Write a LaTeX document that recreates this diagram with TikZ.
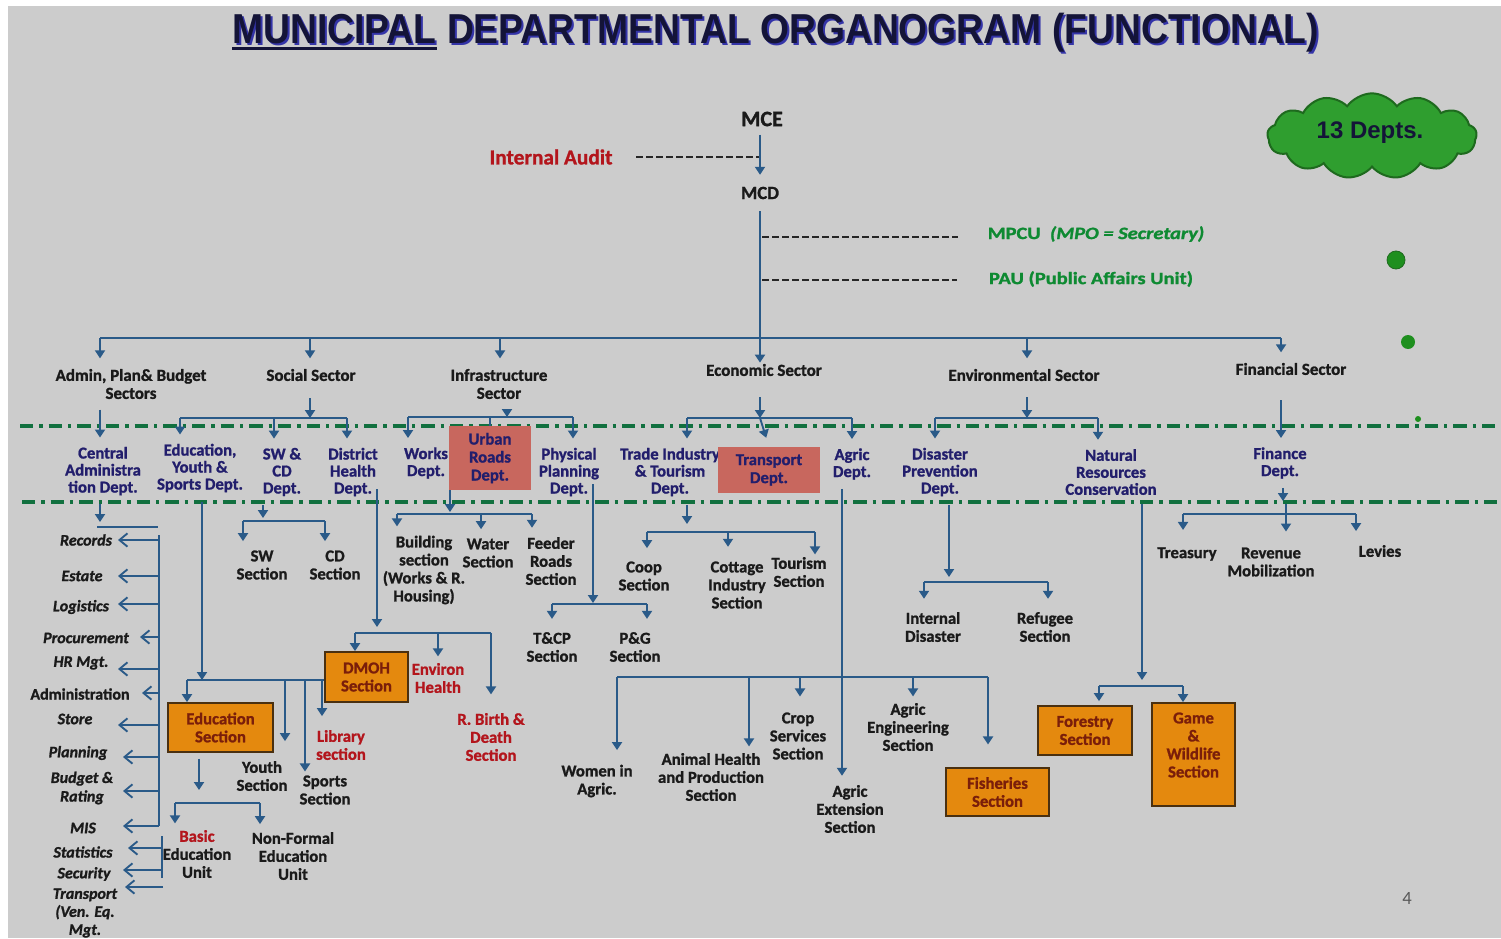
\documentclass[tikz,border=0pt]{standalone}
\usepackage{fontspec}
\setmainfont{Carlito}[BoldFeatures={FakeBold=1.2}, BoldItalicFeatures={FakeBold=1.2}]
\newfontfamily\titlefont{Liberation Sans}
\usetikzlibrary{arrows.meta,shapes.symbols}

\definecolor{slide}{HTML}{CCCCCC}
\definecolor{wire}{HTML}{2A5A88}
\definecolor{navy}{HTML}{221E6C}
\definecolor{ink}{HTML}{1A1A1A}
\definecolor{redtxt}{HTML}{B3151C}
\definecolor{greentxt}{HTML}{0E8A32}
\definecolor{orangebox}{HTML}{E4890E}
\definecolor{boxedge}{HTML}{4A3010}
\definecolor{boxtxt}{HTML}{7A1E0A}
\definecolor{salmon}{HTML}{C8675E}
\definecolor{rulegreen}{HTML}{11703F}
\definecolor{cloudgreen}{HTML}{2F9E2F}
\definecolor{clouddark}{HTML}{1E6A1E}
\definecolor{dotgreen}{HTML}{1E8F1E}
\definecolor{titleink}{HTML}{141438}
\definecolor{titleshadow}{HTML}{3434A8}

\begin{document}
\begin{tikzpicture}[x=0.75pt,y=-0.75pt,
  wireline/.style={draw=wire, line width=1.4pt},
  arr/.style={wireline, -{Triangle[length=6pt,width=7.5pt]}},
  barb/.style={wireline, -{Straight Barb[length=6pt,width=10pt]}},
  dashline/.style={draw=black!85, line width=1.4pt, dash pattern=on 5pt off 2.5pt},
  rulerline/.style={draw=rulegreen, line width=2.3pt, dash pattern=on 10pt off 4.5pt on 2.5pt off 4.5pt},
  txt/.style={font=\bfseries\fontsize{12.5}{13.5}\selectfont, text=ink, align=center, inner sep=0pt},
  sector/.style={txt, font=\bfseries\fontsize{12.7}{13.5}\selectfont, outer sep=8pt},
  dept/.style={txt, font=\bfseries\fontsize{12.5}{12.75}\selectfont, text=navy, outer sep=7pt},
  sect/.style={txt, outer sep=7pt},
  redsect/.style={sect, text=redtxt},
  listlbl/.style={txt, font=\bfseries\itshape\fontsize{12}{13.5}\selectfont},
  greenlbl/.style={txt, font=\bfseries\fontsize{13}{15}\selectfont, text=greentxt},
  obox/.style={draw=boxedge, line width=1.3pt, fill=orangebox, text=boxtxt, align=center, inner sep=0pt,
    font=\bfseries\fontsize{12.5}{13.5}\selectfont},
  sbox/.style={fill=salmon, text=navy, align=center, inner sep=0pt,
    font=\bfseries\fontsize{12.5}{13.5}\selectfont},
  titletxt/.style={inner sep=0pt, font=\titlefont\bfseries\fontsize{31.4}{34}\selectfont}
]
% page and slide background
\fill[white] (0,0) rectangle (1501,938);
\fill[slide] (8,6) rectangle (1501,938);
\useasboundingbox (0,0) rectangle (1501,938);

% title with its shadow and the underline under the first word
\node[titletxt, text=titleshadow, anchor=base west] (tMunS) at (234,46) {\scalebox{0.89}[1]{MUNICIPAL}};
\node[titletxt, text=titleshadow, anchor=base west, xshift=7.5pt] (tRestS) at (tMunS.base east) {\scalebox{0.89}[1]{DEPARTMENTAL ORGANOGRAM (FUNCTIONAL)}};
\node[titletxt, text=titleink, anchor=base west] (tMun) at (232,44) {\scalebox{0.89}[1]{MUNICIPAL}};
\node[titletxt, text=titleink, anchor=base west, xshift=7.5pt] (tRest) at (tMun.base east) {\scalebox{0.89}[1]{DEPARTMENTAL ORGANOGRAM (FUNCTIONAL)}};
\draw[titleink, line width=2.3pt] ([yshift=-3.5pt]tMun.base west) -- ([yshift=-3.5pt]tMun.base east);

% cloud and bullets on the right
\node[cloud, cloud puffs=13, cloud puff arc=110, aspect=2.4, fill=cloudgreen, draw=clouddark, line width=1.5pt,
  minimum width=157pt, minimum height=64pt, inner sep=0pt] (cloudN) at (1372,136) {};
\node[inner sep=0pt, font=\titlefont\bfseries\fontsize{18}{20}\selectfont, text=titleink] (depts) at (1370,133) {13 Depts.};
\node[circle, fill=dotgreen, draw=clouddark, line width=0.6pt, inner sep=0pt, minimum size=13.5pt] (dotA) at (1396,260) {};
\node[circle, fill=dotgreen, inner sep=0pt, minimum size=10.5pt] (dotB) at (1408,342) {};
\node[circle, fill=dotgreen, inner sep=0pt, minimum size=4.5pt] (dotC) at (1418,419) {};

% dash-dot separators between the levels
\coordinate (ruleAL) at (20,426);  \coordinate (ruleAR) at (1501,426);
\coordinate (ruleBL) at (22,502);  \coordinate (ruleBR) at (1501,502);
\draw[rulerline] (ruleAL) -- (ruleAR);
\draw[rulerline] (ruleBL) -- (ruleBR);

% ---------- nodes ----------
\node[txt, font=\bfseries\fontsize{16.5}{18}\selectfont] (mce) at (762,119) {MCE};
\node[txt, font=\bfseries\fontsize{14}{16}\selectfont, outer sep=9pt] (mcd) at (760,193) {MCD};
\node[txt, font=\bfseries\fontsize{16}{18}\selectfont, text=redtxt] (audit) at (551,157) {Internal Audit};
\node[greenlbl] (mpcu) at (1096,234) {\scalebox{1.18}[1]{MPCU\ \ \textit{(MPO = Secretary)}}};
\node[greenlbl] (pau) at (1091,279) {\scalebox{1.18}[1]{PAU (Public Affairs Unit)}};

% sectors
\node[sector] (secAdmin) at (131,384) {Admin, Plan\& Budget\\Sectors};
\node[sector] (secSocial) at (311,375) {Social Sector};
\node[sector] (secInfra) at (499,384) {Infrastructure\\Sector};
\node[sector, outer sep=1pt] (secEcon) at (764,370) {Economic Sector};
\node[sector] (secEnv) at (1024,375) {Environmental Sector};
\node[sector] (secFin) at (1291,369) {Financial Sector};

% departments
\node[dept] (centAdm) at (103,471) {Central\\Administra\\tion Dept.};
\node[dept] (eysd) at (200,468) {Education,\\Youth \&\\Sports Dept.};
\node[dept] (swcd) at (282,472) {SW \&\\CD\\Dept.};
\node[dept] (dhd) at (353,472) {District\\Health\\Dept.};
\node[dept] (works) at (426,463) {Works\\Dept.};
\node[dept] (phys) at (569,472) {Physical\\Planning\\Dept.};
\node[dept] (trade) at (670,472) {Trade Industry\\\& Tourism\\Dept.};
\node[dept] (agric) at (852,464) {Agric\\Dept.};
\node[dept] (disas) at (940,472) {Disaster\\Prevention\\Dept.};
\node[dept] (natres) at (1111,472) {Natural\\Resources\\Conservation};
\node[dept] (fin) at (1280,463) {Finance\\Dept.};
\node[sbox, minimum width=61.5pt, minimum height=48pt] (urban) at (490,458) {Urban\\Roads\\Dept.};
\node[sbox, minimum width=76.5pt, minimum height=34.5pt] (transp) at (769,470) {Transport\\Dept.};

% administration units
\node[listlbl] (rec) at (86,540) {Records};
\node[listlbl] (est) at (82,576) {Estate};
\node[listlbl] (logi) at (81,607) {Logistics};
\node[listlbl] (proc) at (86,638) {Procurement};
\node[listlbl] (hrm) at (81,663) {HR Mgt.};
\node[listlbl, font=\bfseries\fontsize{12}{13.5}\selectfont] (admn) at (80,694) {Administration};
\node[listlbl] (store) at (75,719) {Store};
\node[listlbl] (plan) at (78,753) {Planning};
\node[listlbl, font=\bfseries\itshape\fontsize{12}{14}\selectfont] (budg) at (82,788) {Budget \&\\Rating};
\node[listlbl] (mis) at (83,828) {MIS};
\node[listlbl] (stat) at (83,852) {Statistics};
\node[listlbl] (secu) at (84,874) {Security};
\node[listlbl] (trans) at (85,913) {Transport\\(Ven. Eq.\\Mgt.};

% social sector sections
\node[obox, minimum width=78.75pt, minimum height=36.75pt] (eduSec) at (220.5,727.5) {Education\\Section};
\node[sect, outer sep=15pt] (youth) at (262,776) {Youth\\Section};
\node[sect, outer sep=3pt] (sports) at (325,790) {Sports\\Section};
\node[redsect, outer sep=10.5pt] (library) at (341,745) {Library\\section};
\node[sect, outer sep=5pt] (basic) at (197,854) {\textcolor{redtxt}{Basic}\\Education\\Unit};
\node[sect, outer sep=6pt] (nonf) at (293,856) {Non-Formal\\Education\\Unit};
\node[obox, minimum width=62.25pt, minimum height=37.5pt] (dmoh) at (366.5,677) {DMOH\\Section};
\node[redsect, outer sep=5pt] (environ) at (438,678) {Environ\\Health};
\node[redsect, outer sep=14pt] (rbirth) at (491,737) {R. Birth \&\\Death\\Section};
\node[sect] (swsec) at (262,565) {SW\\Section};
\node[sect] (cdsec) at (335,565) {CD\\Section};

% infrastructure sections
\node[sect] (build) at (424,570) {Building\\section\\(Works \& R.\\Housing)};
\node[sect] (water) at (488,553) {Water\\Section};
\node[sect] (feeder) at (551,561) {Feeder\\Roads\\Section};
\node[sect, outer sep=10pt] (tcp) at (552,647) {T\&CP\\Section};
\node[sect, outer sep=10pt] (pg) at (635,647) {P\&G\\Section};

% economic sections
\node[sect, outer sep=10pt] (coop) at (644,576) {Coop\\Section};
\node[sect, outer sep=11pt] (cottage) at (737,585) {Cottage\\Industry\\Section};
\node[sect, outer sep=2pt] (tourism) at (799,572) {Tourism\\Section};
\node[sect, outer sep=11pt] (women) at (597,781) {Women in\\Agric.};
\node[sect, outer sep=5pt] (animal) at (711,777) {Animal Health\\and Production\\Section};
\node[sect, outer sep=12pt] (crop) at (798,736) {Crop\\Services\\Section};
\node[sect, outer sep=5pt] (ageng) at (908,727) {Agric\\Engineering\\Section};
\node[sect] (agext) at (850,809) {Agric\\Extension\\Section};
\node[obox, minimum width=77.25pt, minimum height=36pt] (fish) at (997.5,792) {Fisheries\\Section};

% environmental sections
\node[sect, outer sep=10pt] (intdis) at (933,627) {Internal\\Disaster};
\node[sect, outer sep=10pt] (refug) at (1045,627) {Refugee\\Section};
\node[obox, minimum width=70.5pt, minimum height=36.75pt] (forest) at (1085,730.5) {Forestry\\Section};
\node[obox, minimum width=62.25pt, minimum height=77.25pt] (game) at (1193.5,754.5) {};
\node[txt, text=boxtxt] (gameT) at (1193.5,745) {Game\\\&\\Wildlife\\Section};

% financial sections
\node[sect, outer sep=13pt] (treas) at (1187,554) {Treasury};
\node[sect, outer sep=12pt] (revenue) at (1271,562) {Revenue\\Mobilization};
\node[sect, outer sep=10.5pt] (levies) at (1380,551) {Levies};

\node[inner sep=0pt, font=\fontsize{14}{16}\selectfont, text=black!65] (pgno) at (1407,898) {4};

% ---------- connectors ----------
% top of the hierarchy
\coordinate (spine) at (760,158);
\draw[dashline, shorten <=17.5pt] (audit.east) -- (audit.east -| spine);
\draw[arr, shorten <=6pt] (mce.south -| spine) -- (mcd.north -| spine);
\draw[arr] (mcd.south -| spine) -- (secEcon.north -| spine);
\coordinate (mpJ) at (762,237);
\coordinate (paJ) at (762,280);
\draw[dashline, shorten >=22.5pt] (mpJ) -- (mpJ -| mpcu.west);
\draw[dashline, shorten >=23.5pt] (paJ) -- (paJ -| pau.west);

% sector bus
\coordinate (sb1) at (100,338);
\coordinate (sb2) at (310,338);
\coordinate (sb3) at (500,338);
\coordinate (sb5) at (1027,338);
\coordinate (sb6) at (1281,338);
\draw[wireline] (sb1) -- (sb6);
\draw[arr] (sb1) -- (sb1 |- secAdmin.north);
\draw[arr] (sb2) -- (sb2 |- secSocial.north);
\draw[arr] (sb3) -- (sb3 |- secInfra.north);
\draw[arr] (sb5) -- (sb5 |- secEnv.north);
\draw[arr] (sb6) -- (sb6 |- secFin.north);

% sectors to departments
\draw[arr] (sb1 |- secAdmin.south) -- (sb1 |- centAdm.north);

\coordinate (ssJ) at (310,418);
\coordinate (ss1) at (180,418);
\coordinate (ss2) at (274,418);
\coordinate (ss3) at (347,418);
\draw[arr, shorten <=5pt] (ssJ |- secSocial.south) -- (ssJ);
\draw[wireline] (ss1) -- (ss3);
\draw[arr] (ss1) -- (ss1 |- eysd.north);
\draw[arr] (ss2) -- (ss2 |- swcd.north);
\draw[arr] (ss3) -- (ss3 |- dhd.north);

\coordinate (isJ) at (507,417);
\coordinate (is1) at (408,417);
\coordinate (is2) at (490,417);
\coordinate (is3) at (573,417);
\draw[arr] (isJ |- secInfra.south) -- (isJ);
\draw[wireline] (is1) -- (is3);
\draw[arr] (is1) -- (is1 |- works.north);
\draw[wireline] (is2) -- (urban.north);
\draw[arr] (is3) -- (is3 |- phys.north);

\coordinate (esJ) at (760,418);
\coordinate (es1) at (687,418);
\coordinate (es3) at (852,418);
\draw[arr, shorten <=15pt] (esJ |- secEcon.south) -- (esJ);
\draw[wireline] (es1) -- (es3);
\draw[arr] (es1) -- (es1 |- trade.north);
\draw[arr, shorten >=7pt] (esJ) -- (transp.north);
\draw[arr] (es3) -- (es3 |- agric.north);

\coordinate (nsJ) at (1027,418);
\coordinate (ns1) at (935,418);
\coordinate (ns2) at (1098,418);
\draw[arr, shorten <=4pt] (nsJ |- secEnv.south) -- (nsJ);
\draw[wireline] (ns1) -- (ns2);
\draw[arr] (ns1) -- (ns1 |- disas.north);
\draw[arr] (ns2) -- (ns2 |- natres.north);

\draw[arr, shorten <=11pt] (sb6 |- secFin.south) -- (sb6 |- fin.north);

% central administration units
\coordinate (caTip) at (100,522);
\draw[arr] (caTip |- centAdm.south) -- (caTip);
\coordinate (abL) at (97,527);
\coordinate (abR) at (158,527);
\draw[wireline] (abL) -- (abR);
\coordinate (barTop) at (159,535);
\coordinate (barBot) at (159,826);
\coordinate (barTwoTop) at (162,836);
\coordinate (barTwoBot) at (162,878);
\draw[wireline] (barTop) -- (barBot);
\draw[wireline] (barTwoTop) -- (barTwoBot);
\foreach \nm/\ty/\tx/\bx in {rec/540/118/159, est/576/118/159, log/604/118/159,
    proc/637/140/159, hr/669/118/159, adm/693/142/159, sto/725/118/159,
    pla/757/123/159, bud/791/123/159, mis/826/123/159, sta/848/128/162,
    sec/870/123/162, tra/887/125/163}{
  \coordinate (lb-\nm) at (\bx,\ty);
  \coordinate (lt-\nm) at (\tx,\ty);
  \draw[barb] (lb-\nm) -- (lt-\nm);
}

% education, youth and sports
\coordinate (eb0) at (202,680);
\coordinate (eb1) at (187,680);
\coordinate (eb2) at (285,680);
\coordinate (eb3) at (305,680);
\coordinate (eb4) at (322,680);
\draw[arr] (eb0 |- eysd.south) -- (eb0);
\draw[wireline] (eb1) -- (eb1 -| dmoh.west);
\draw[arr] (eb1) -- (eb1 |- eduSec.north);
\draw[arr] (eb2) -- (eb2 |- youth.north);
\draw[arr] (eb3) -- (eb3 |- sports.north);
\draw[arr] (eb4) -- (eb4 |- library.north);

\coordinate (eu0) at (199,790);
\coordinate (eu1) at (175,803);
\coordinate (eu2) at (260,803);
\draw[arr, shorten <=4.5pt] (eu0 |- eduSec.south) -- (eu0);
\draw[wireline] (eu1) -- (eu2);
\draw[arr] (eu1) -- (eu1 |- basic.north);
\draw[arr] (eu2) -- (eu2 |- nonf.north);

% district health
\coordinate (dh0) at (377,627);
\coordinate (dm1) at (355,633);
\coordinate (dm2) at (438,633);
\coordinate (dm3) at (491,633);
\draw[arr, shorten <=-12pt] (dh0 |- dhd.south) -- (dh0);
\draw[wireline] (dm1) -- (dm3);
\draw[arr] (dm1) -- (dm1 |- dmoh.north);
\draw[arr] (dm2) -- (dm2 |- environ.north);
\draw[arr] (dm3) -- (dm3 |- rbirth.north);

% social welfare and community development
\coordinate (sw0) at (263,518);
\coordinate (sw1) at (243,521);
\coordinate (sw2) at (325,521);
\draw[arr] (sw0 |- swcd.south) -- (sw0);
\draw[wireline] (sw1) -- (sw2);
\draw[arr] (sw1) -- (sw1 |- swsec.north);
\draw[arr] (sw2) -- (sw2 |- cdsec.north);

% works
\coordinate (wk0) at (450,512);
\coordinate (wk1) at (397,514);
\coordinate (wk2) at (481,514);
\coordinate (wk3) at (532,514);
\draw[arr] (wk0 |- urban.south) -- (wk0);
\draw[wireline] (wk1) -- (wk3);
\draw[arr] (wk1) -- (wk1 |- build.north);
\draw[arr] (wk2) -- (wk2 |- water.north);
\draw[arr] (wk3) -- (wk3 |- feeder.north);

% physical planning
\coordinate (pp0) at (593,603);
\coordinate (pp1) at (552,604);
\coordinate (pp2) at (647,604);
\draw[arr, shorten <=-16pt] (pp0 |- phys.south) -- (pp0);
\draw[wireline] (pp1) -- (pp2);
\draw[arr] (pp1) -- (pp1 |- tcp.north);
\draw[arr] (pp2) -- (pp2 |- pg.north);

% trade, industry and tourism
\coordinate (td0) at (687,524);
\coordinate (td1) at (647,532);
\coordinate (td2) at (728,532);
\coordinate (td3) at (815,532);
\draw[arr] (td0 |- trade.south) -- (td0);
\draw[wireline] (td1) -- (td3);
\draw[arr] (td1) -- (td1 |- coop.north);
\draw[arr] (td2) -- (td2 |- cottage.north);
\draw[arr] (td3) -- (td3 |- tourism.north);

% agriculture
\coordinate (agx) at (842,677);
\coordinate (ab1) at (617,677);
\coordinate (ab2) at (749,677);
\coordinate (ab3) at (800,677);
\coordinate (ab4) at (913,677);
\coordinate (ab5) at (988,677);
\draw[arr] (agx |- agric.south) -- (agx |- agext.north);
\draw[wireline] (ab1) -- (ab5);
\draw[arr] (ab1) -- (ab1 |- women.north);
\draw[arr] (ab2) -- (ab2 |- animal.north);
\draw[arr] (ab3) -- (ab3 |- crop.north);
\draw[arr] (ab4) -- (ab4 |- ageng.north);
\draw[arr, shorten >=17pt] (ab5) -- (ab5 |- fish.north);

% disaster prevention
\coordinate (ds0) at (949,577);
\coordinate (ds1) at (924,582);
\coordinate (ds2) at (1048,582);
\draw[arr] (ds0 |- disas.south) -- (ds0);
\draw[wireline] (ds1) -- (ds2);
\draw[arr] (ds1) -- (ds1 |- intdis.north);
\draw[arr] (ds2) -- (ds2 |- refug.north);

% natural resources
\coordinate (nr0) at (1142,680);
\coordinate (nr1) at (1099,686);
\coordinate (nr2) at (1183,686);
\draw[arr] (nr0 |- natres.south) -- (nr0);
\draw[wireline] (nr1) -- (nr2);
\draw[arr, shorten >=3pt] (nr1) -- (nr1 |- forest.north);
\draw[arr] (nr2) -- (nr2 |- game.north);

% finance
\coordinate (fn0) at (1283,501);
\coordinate (fb1) at (1183,514);
\coordinate (fbT) at (1286,504);
\coordinate (fb3) at (1356,514);
\draw[arr] (fn0 |- fin.south) -- (fn0);
\draw[wireline] (fb1) -- (fb3);
\draw[arr] (fb1) -- (fb1 |- treas.north);
\draw[arr] (fbT) -- (fbT |- revenue.north);
\draw[arr] (fb3) -- (fb3 |- levies.north);
\end{tikzpicture}
\end{document}
